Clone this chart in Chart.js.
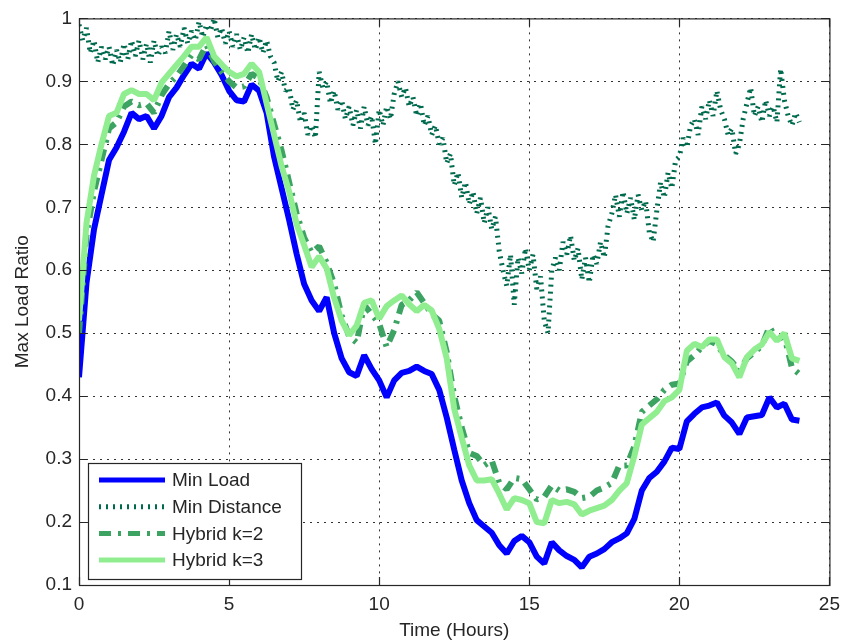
<!DOCTYPE html>
<html>
<head>
<meta charset="utf-8">
<title>Max Load Ratio</title>
<script src="https://cdn.jsdelivr.net/npm/chart.js@4.4.1/dist/chart.umd.min.js"></script>
<style>
  html, body { margin: 0; padding: 0; background: #fff; }
</style>
</head>
<body>
<canvas id="loadChart" width="848" height="644"></canvas>
<script>
// sample times in hours: quarter-hour steps for the thick curves,
// eighth-hour steps for the jittery min-distance trace
const hours = Array.from({ length: 97 }, (_, i) => i * 0.25);
const distHours = Array.from({ length: 193 }, (_, i) => i * 0.125);

const xTicks = [0, 5, 10, 15, 20, 25];
const yTicks = [0.1, 0.2, 0.3, 0.4, 0.5, 0.6, 0.7, 0.8, 0.9, 1];

const minLoad = [
  0.43, 0.58, 0.665, 0.72,
  0.775, 0.795, 0.82, 0.85,
  0.84, 0.845, 0.825, 0.845,
  0.875, 0.89, 0.91, 0.928,
  0.92, 0.945, 0.93, 0.91,
  0.885, 0.87, 0.868, 0.895,
  0.885, 0.85, 0.78, 0.73,
  0.68, 0.626, 0.578, 0.552,
  0.535, 0.557, 0.5, 0.46,
  0.438, 0.432, 0.465, 0.443,
  0.425, 0.398, 0.425, 0.437,
  0.44, 0.447, 0.44, 0.435,
  0.41, 0.366, 0.315, 0.266,
  0.23, 0.203, 0.193, 0.183,
  0.163, 0.15, 0.17, 0.178,
  0.168, 0.145, 0.134, 0.168,
  0.155, 0.146, 0.14, 0.128,
  0.145, 0.15, 0.157, 0.168,
  0.174, 0.182, 0.205, 0.25,
  0.27, 0.28, 0.296, 0.318,
  0.316, 0.36, 0.372, 0.382,
  0.385, 0.39, 0.369, 0.358,
  0.34, 0.366, 0.368, 0.37,
  0.398, 0.382, 0.388, 0.363,
  0.361
];

const minDistance = [
  0.99, 0.965, 0.985, 0.945, 0.965, 0.93, 0.955, 0.935,
  0.955, 0.925, 0.95, 0.93, 0.96, 0.935, 0.965, 0.94,
  0.965, 0.935, 0.96, 0.93, 0.965, 0.94, 0.955, 0.945,
  0.98, 0.95, 0.975, 0.955, 0.985, 0.96, 0.98, 0.965,
  0.995, 0.97, 0.99, 0.98, 1.0, 0.97, 0.985, 0.96,
  0.98, 0.955, 0.975, 0.95, 0.97, 0.945, 0.975, 0.95,
  0.97, 0.945, 0.965, 0.94, 0.93, 0.9, 0.915, 0.885,
  0.89, 0.855, 0.87, 0.835, 0.85, 0.815, 0.83, 0.81,
  0.915, 0.89, 0.9, 0.865, 0.885, 0.855, 0.87, 0.84,
  0.86, 0.83, 0.855, 0.825, 0.86, 0.83, 0.845, 0.8,
  0.855, 0.83, 0.86, 0.84, 0.88, 0.9, 0.875, 0.89,
  0.86, 0.875, 0.845, 0.865, 0.83, 0.845, 0.815, 0.83,
  0.8, 0.81, 0.77, 0.785, 0.735, 0.755, 0.715, 0.74,
  0.705, 0.725, 0.69, 0.715, 0.675, 0.7, 0.665, 0.685,
  0.63, 0.6, 0.575, 0.625, 0.545, 0.62, 0.595, 0.635,
  0.6, 0.625, 0.57, 0.59, 0.52, 0.5, 0.6, 0.62,
  0.6, 0.645, 0.625, 0.655, 0.615, 0.635, 0.585, 0.62,
  0.58, 0.625, 0.61, 0.645, 0.62, 0.67, 0.69, 0.72,
  0.685, 0.725, 0.69, 0.715, 0.68, 0.72, 0.695, 0.71,
  0.66, 0.645, 0.695, 0.74, 0.715, 0.755, 0.73, 0.775,
  0.78, 0.81, 0.795, 0.83, 0.84, 0.815, 0.86, 0.84,
  0.87, 0.845, 0.885, 0.855, 0.84, 0.815, 0.825, 0.785,
  0.8, 0.84, 0.865, 0.89, 0.845, 0.86, 0.835, 0.87,
  0.845, 0.86, 0.835, 0.92, 0.87, 0.845, 0.83, 0.85,
  0.835
];

const hybridK2 = [
  0.50, 0.655, 0.725, 0.775,
  0.825, 0.835, 0.86, 0.868,
  0.862, 0.865, 0.85, 0.878,
  0.896, 0.908, 0.925, 0.942,
  0.935, 0.958, 0.932, 0.915,
  0.9, 0.89, 0.892, 0.912,
  0.905, 0.875, 0.832, 0.79,
  0.74, 0.69, 0.652, 0.628,
  0.638, 0.612, 0.578, 0.528,
  0.495, 0.485, 0.545, 0.53,
  0.515, 0.478, 0.505, 0.545,
  0.552, 0.565, 0.548, 0.53,
  0.52, 0.47, 0.4, 0.35,
  0.31, 0.305, 0.29, 0.298,
  0.262, 0.252, 0.27, 0.268,
  0.252, 0.236, 0.24, 0.258,
  0.25, 0.252, 0.248, 0.238,
  0.24, 0.25, 0.255, 0.262,
  0.29, 0.29, 0.32, 0.375,
  0.385, 0.395, 0.41, 0.418,
  0.42, 0.455, 0.465, 0.478,
  0.488, 0.482, 0.465, 0.455,
  0.44, 0.46, 0.47, 0.48,
  0.51, 0.49, 0.495, 0.445,
  0.435
];

const hybridK3 = [
  0.52, 0.675, 0.75, 0.80,
  0.845, 0.85, 0.88, 0.886,
  0.88, 0.88, 0.87, 0.898,
  0.912, 0.926, 0.94, 0.955,
  0.955, 0.97, 0.94, 0.927,
  0.915, 0.908, 0.912, 0.928,
  0.915, 0.865, 0.815, 0.765,
  0.725, 0.673, 0.64, 0.605,
  0.622, 0.603, 0.556, 0.52,
  0.497, 0.512, 0.548, 0.552,
  0.523, 0.543, 0.552, 0.56,
  0.546, 0.535, 0.545, 0.536,
  0.507, 0.46, 0.38, 0.334,
  0.29, 0.266, 0.266, 0.268,
  0.245, 0.22, 0.238, 0.235,
  0.23, 0.2, 0.198, 0.235,
  0.23, 0.232, 0.228, 0.212,
  0.218, 0.222, 0.226, 0.235,
  0.25, 0.262, 0.305, 0.355,
  0.365, 0.375, 0.392, 0.398,
  0.41, 0.472, 0.483, 0.478,
  0.49, 0.49, 0.462, 0.452,
  0.43, 0.462, 0.474, 0.482,
  0.502, 0.488, 0.5, 0.46,
  0.456
];

const FONT = "'Liberation Sans', Arial, Helvetica, sans-serif";
const INK = '#262626';

function toPoints(xs, ys) {
  return ys.map((y, i) => ({ x: xs[i], y }));
}

// axes box with inward tick marks on all four sides
const frame = {
  id: 'frame',
  afterDatasetsDraw(chart) {
    const { ctx, chartArea: a, scales: { x, y } } = chart;
    const len = 8;
    ctx.save();
    ctx.strokeStyle = INK;
    ctx.lineWidth = 1.2;
    ctx.beginPath();
    x.ticks.forEach(t => {
      const px = Math.round(x.getPixelForValue(t.value)) + 0.5;
      ctx.moveTo(px, a.bottom); ctx.lineTo(px, a.bottom - len);
      ctx.moveTo(px, a.top); ctx.lineTo(px, a.top + len);
    });
    y.ticks.forEach(t => {
      const py = Math.round(y.getPixelForValue(t.value)) + 0.5;
      ctx.moveTo(a.left, py); ctx.lineTo(a.left + len, py);
      ctx.moveTo(a.right, py); ctx.lineTo(a.right - len, py);
    });
    ctx.stroke();
    ctx.strokeRect(a.left + 0.5, a.top + 0.5, a.right - a.left, a.bottom - a.top);
    ctx.restore();
  }
};

// boxed legend in the lower-left corner of the plot
const boxLegend = {
  id: 'boxLegend',
  afterDraw(chart) {
    const { ctx, chartArea: a } = chart;
    const left = a.left + 9, bottom = a.bottom - 6;
    const w = 213, h = 116, top = bottom - h;
    const rowH = 26.7;
    ctx.save();
    ctx.fillStyle = '#fff';
    ctx.fillRect(left, top, w, h);
    ctx.strokeStyle = INK;
    ctx.lineWidth = 1.2;
    ctx.strokeRect(left + 0.5, top + 0.5, w, h);
    ctx.font = '19px ' + FONT;
    ctx.textBaseline = 'middle';
    chart.data.datasets.forEach((ds, i) => {
      const cy = top + 17 + i * rowH;
      ctx.strokeStyle = ds.borderColor;
      ctx.lineWidth = 5;
      ctx.setLineDash(ds.borderDash || []);
      ctx.beginPath();
      ctx.moveTo(left + 11, cy);
      ctx.lineTo(left + 77, cy);
      ctx.stroke();
      ctx.setLineDash([]);
      ctx.fillStyle = INK;
      ctx.fillText(ds.label, left + 84, cy + 1);
    });
    ctx.restore();
  }
};

const ctx = document.getElementById('loadChart').getContext('2d');
new Chart(ctx, {
  type: 'line',
  data: {
    datasets: [
      { label: 'Min Load', data: toPoints(hours, minLoad), borderColor: '#0000ff', borderWidth: 6, order: 4 },
      { label: 'Min Distance', data: toPoints(distHours, minDistance), borderColor: '#006a4e', borderWidth: 5, borderDash: [2, 5], borderCapStyle: 'butt', order: 3 },
      { label: 'Hybrid k=2', data: toPoints(hours, hybridK2), borderColor: '#3ca362', borderWidth: 6, borderDash: [12, 7, 3, 7], order: 2 },
      { label: 'Hybrid k=3', data: toPoints(hours, hybridK3), borderColor: '#90ee90', borderWidth: 6, order: 1 }
    ]
  },
  options: {
    responsive: false,
    animation: false,
    elements: {
      point: { radius: 0, hoverRadius: 0 },
      line: { tension: 0, fill: false, borderJoinStyle: 'bevel' }
    },
    layout: { padding: { left: 6, top: 17, right: 12, bottom: 0 } },
    plugins: {
      legend: { display: false },
      tooltip: { enabled: false }
    },
    scales: {
      x: {
        type: 'linear',
        min: 0,
        max: 25,
        afterBuildTicks: s => { s.ticks = xTicks.map(v => ({ value: v })); },
        afterFit: s => { s.height = 59; },
        ticks: { color: INK, padding: 8, maxRotation: 0, font: { size: 19, family: FONT }, callback: v => String(v) },
        grid: { color: '#333', lineWidth: 1, drawTicks: false },
        border: { display: false, dash: [2, 5] },
        title: { display: true, text: 'Time (Hours)', color: INK, font: { size: 19, family: FONT }, padding: { top: 0, bottom: 2 } }
      },
      y: {
        min: 0.1,
        max: 1,
        afterBuildTicks: s => { s.ticks = yTicks.map(v => ({ value: v })); },
        afterFit: s => { s.width = 73; },
        ticks: { color: INK, padding: 7, font: { size: 19, family: FONT }, callback: v => String(v) },
        grid: { color: '#333', lineWidth: 1, drawTicks: false },
        border: { display: false, dash: [2, 5] },
        title: { display: true, text: 'Max Load Ratio', color: INK, font: { size: 19, family: FONT }, padding: { top: 5, bottom: 0 } }
      }
    }
  },
  plugins: [frame, boxLegend]
});
</script>
</body>
</html>
